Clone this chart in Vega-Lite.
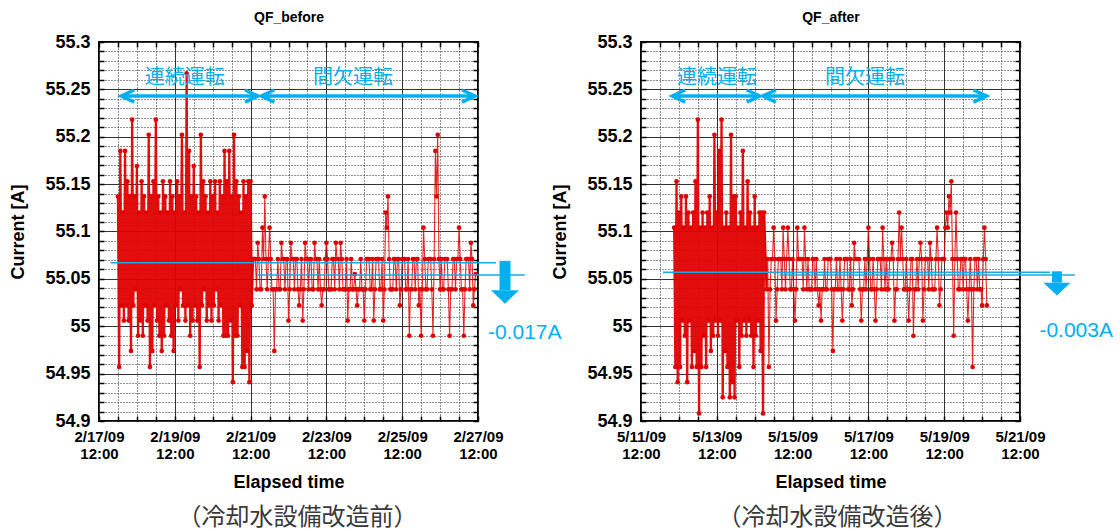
{
"$schema":"https://vega.github.io/schema/vega-lite/v6.json",
"background":"white",
"padding":{"left":8,"top":9,"right":0,"bottom":0},
"bounds":"flush",
"spacing":163,
"datasets":{
"before":[
{"t":"2009-02-18T00:00","v":55.137},{"t":"2009-02-18T00:45","v":54.957},{"t":"2009-02-18T01:30","v":55.185},{"t":"2009-02-18T02:15","v":55.022},{"t":"2009-02-18T03:00","v":55.12},{"t":"2009-02-18T03:45","v":55.006},{"t":"2009-02-18T04:30","v":55.185},{"t":"2009-02-18T05:15","v":55.022},{"t":"2009-02-18T06:00","v":55.153},{"t":"2009-02-18T06:45","v":55.006},{"t":"2009-02-18T07:30","v":55.137},{"t":"2009-02-18T08:15","v":54.974},{"t":"2009-02-18T09:00","v":55.218},{"t":"2009-02-18T09:45","v":55.022},{"t":"2009-02-18T10:30","v":55.137},{"t":"2009-02-18T11:15","v":55.039},{"t":"2009-02-18T12:00","v":55.169},{"t":"2009-02-18T12:45","v":54.99},{"t":"2009-02-18T13:30","v":55.12},{"t":"2009-02-18T14:15","v":55.006},{"t":"2009-02-18T15:00","v":55.153},{"t":"2009-02-18T15:45","v":54.99},{"t":"2009-02-18T16:30","v":55.137},{"t":"2009-02-18T17:15","v":55.022},{"t":"2009-02-18T18:00","v":55.12},{"t":"2009-02-18T18:45","v":55.006},{"t":"2009-02-18T19:30","v":55.202},{"t":"2009-02-18T20:15","v":54.957},{"t":"2009-02-18T21:00","v":55.137},{"t":"2009-02-18T21:45","v":54.974},{"t":"2009-02-18T22:30","v":55.153},{"t":"2009-02-18T23:15","v":55.022},
{"t":"2009-02-19T00:00","v":55.218},{"t":"2009-02-19T00:45","v":55.006},{"t":"2009-02-19T01:30","v":55.137},{"t":"2009-02-19T02:15","v":54.99},{"t":"2009-02-19T03:00","v":55.12},{"t":"2009-02-19T03:45","v":54.974},{"t":"2009-02-19T04:30","v":55.153},{"t":"2009-02-19T05:15","v":54.99},{"t":"2009-02-19T06:00","v":55.137},{"t":"2009-02-19T06:45","v":55.022},{"t":"2009-02-19T07:30","v":55.12},{"t":"2009-02-19T08:15","v":55.006},{"t":"2009-02-19T09:00","v":55.153},{"t":"2009-02-19T09:45","v":54.99},{"t":"2009-02-19T10:30","v":55.137},{"t":"2009-02-19T11:15","v":54.974},{"t":"2009-02-19T12:00","v":55.12},{"t":"2009-02-19T12:45","v":55.022},{"t":"2009-02-19T13:30","v":55.153},{"t":"2009-02-19T14:15","v":55.006},{"t":"2009-02-19T15:00","v":55.137},{"t":"2009-02-19T15:45","v":55.039},{"t":"2009-02-19T16:30","v":55.202},{"t":"2009-02-19T17:15","v":55.022},{"t":"2009-02-19T18:00","v":55.12},{"t":"2009-02-19T18:45","v":55.006},{"t":"2009-02-19T19:30","v":55.267},{"t":"2009-02-19T20:15","v":55.022},{"t":"2009-02-19T21:00","v":55.185},{"t":"2009-02-19T21:45","v":54.99},{"t":"2009-02-19T22:30","v":55.137},{"t":"2009-02-19T23:15","v":55.006},
{"t":"2009-02-20T00:00","v":55.169},{"t":"2009-02-20T00:45","v":55.022},{"t":"2009-02-20T01:30","v":55.137},{"t":"2009-02-20T02:15","v":55.006},{"t":"2009-02-20T03:00","v":55.12},{"t":"2009-02-20T03:45","v":54.957},{"t":"2009-02-20T04:30","v":55.202},{"t":"2009-02-20T05:15","v":55.022},{"t":"2009-02-20T06:00","v":55.153},{"t":"2009-02-20T06:45","v":55.039},{"t":"2009-02-20T07:30","v":55.137},{"t":"2009-02-20T08:15","v":55.006},{"t":"2009-02-20T09:00","v":55.12},{"t":"2009-02-20T09:45","v":55.022},{"t":"2009-02-20T10:30","v":55.153},{"t":"2009-02-20T11:15","v":55.006},{"t":"2009-02-20T12:00","v":55.137},{"t":"2009-02-20T12:45","v":55.022},{"t":"2009-02-20T13:30","v":55.153},{"t":"2009-02-20T14:15","v":55.039},{"t":"2009-02-20T15:00","v":55.12},{"t":"2009-02-20T15:45","v":55.006},{"t":"2009-02-20T16:30","v":55.153},{"t":"2009-02-20T17:15","v":55.022},{"t":"2009-02-20T18:00","v":55.137},{"t":"2009-02-20T18:45","v":54.99},{"t":"2009-02-20T19:30","v":55.185},{"t":"2009-02-20T20:15","v":54.99},{"t":"2009-02-20T21:00","v":55.153},{"t":"2009-02-20T21:45","v":54.99},{"t":"2009-02-20T22:30","v":55.185},{"t":"2009-02-20T23:15","v":55.006},
{"t":"2009-02-21T00:00","v":55.137},{"t":"2009-02-21T00:45","v":54.941},{"t":"2009-02-21T01:30","v":55.202},{"t":"2009-02-21T02:15","v":54.99},{"t":"2009-02-21T03:00","v":55.153},{"t":"2009-02-21T03:45","v":54.99},{"t":"2009-02-21T04:30","v":55.137},{"t":"2009-02-21T05:15","v":55.022},{"t":"2009-02-21T06:00","v":55.12},{"t":"2009-02-21T06:45","v":54.957},{"t":"2009-02-21T07:30","v":55.153},{"t":"2009-02-21T08:15","v":54.957},{"t":"2009-02-21T09:00","v":55.137},{"t":"2009-02-21T09:45","v":54.974},{"t":"2009-02-21T10:30","v":55.153},{"t":"2009-02-21T11:15","v":54.941},{"t":"2009-02-21T12:00","v":55.153},{"t":"2009-02-21T12:45","v":55.022},
{"t":"2009-02-21T13:30","v":55.071},{"t":"2009-02-21T14:15","v":55.071},{"t":"2009-02-21T15:00","v":55.071},{"t":"2009-02-21T15:45","v":55.039},{"t":"2009-02-21T16:30","v":55.088},{"t":"2009-02-21T17:15","v":55.071},{"t":"2009-02-21T18:00","v":55.039},{"t":"2009-02-21T18:45","v":55.039},{"t":"2009-02-21T19:30","v":55.104},{"t":"2009-02-21T20:15","v":55.071},{"t":"2009-02-21T21:00","v":55.137},{"t":"2009-02-21T21:45","v":55.071},{"t":"2009-02-21T22:30","v":55.039},{"t":"2009-02-21T23:15","v":55.071},
{"t":"2009-02-22T00:00","v":55.104},{"t":"2009-02-22T00:45","v":55.071},{"t":"2009-02-22T01:30","v":55.039},{"t":"2009-02-22T02:15","v":55.039},{"t":"2009-02-22T03:00","v":54.974},{"t":"2009-02-22T03:45","v":55.039},{"t":"2009-02-22T04:30","v":55.039},{"t":"2009-02-22T05:15","v":55.071},{"t":"2009-02-22T06:00","v":55.039},{"t":"2009-02-22T06:45","v":55.039},{"t":"2009-02-22T07:30","v":55.088},{"t":"2009-02-22T08:15","v":55.071},{"t":"2009-02-22T09:00","v":55.071},{"t":"2009-02-22T09:45","v":55.039},{"t":"2009-02-22T10:30","v":55.071},{"t":"2009-02-22T11:15","v":55.071},{"t":"2009-02-22T12:00","v":55.006},{"t":"2009-02-22T12:45","v":55.039},{"t":"2009-02-22T13:30","v":55.088},{"t":"2009-02-22T14:15","v":55.071},{"t":"2009-02-22T15:00","v":55.071},{"t":"2009-02-22T15:45","v":55.039},{"t":"2009-02-22T16:30","v":55.071},{"t":"2009-02-22T17:15","v":55.071},{"t":"2009-02-22T18:00","v":55.039},{"t":"2009-02-22T18:45","v":55.022},{"t":"2009-02-22T19:30","v":55.039},{"t":"2009-02-22T20:15","v":55.071},{"t":"2009-02-22T21:00","v":55.006},{"t":"2009-02-22T21:45","v":55.039},{"t":"2009-02-22T22:30","v":55.088},{"t":"2009-02-22T23:15","v":55.071},
{"t":"2009-02-23T00:00","v":55.071},{"t":"2009-02-23T00:45","v":55.039},{"t":"2009-02-23T01:30","v":55.071},{"t":"2009-02-23T02:15","v":55.071},{"t":"2009-02-23T03:00","v":55.039},{"t":"2009-02-23T03:45","v":55.039},{"t":"2009-02-23T04:30","v":55.088},{"t":"2009-02-23T05:15","v":55.071},{"t":"2009-02-23T06:00","v":55.071},{"t":"2009-02-23T06:45","v":55.039},{"t":"2009-02-23T07:30","v":55.071},{"t":"2009-02-23T08:15","v":55.039},{"t":"2009-02-23T09:00","v":55.022},{"t":"2009-02-23T09:45","v":55.039},{"t":"2009-02-23T10:30","v":55.039},{"t":"2009-02-23T11:15","v":55.071},{"t":"2009-02-23T12:00","v":55.088},{"t":"2009-02-23T12:45","v":55.071},{"t":"2009-02-23T13:30","v":55.039},{"t":"2009-02-23T14:15","v":55.039},{"t":"2009-02-23T15:00","v":55.039},{"t":"2009-02-23T15:45","v":55.071},{"t":"2009-02-23T16:30","v":55.071},{"t":"2009-02-23T17:15","v":55.039},{"t":"2009-02-23T18:00","v":55.088},{"t":"2009-02-23T18:45","v":55.071},{"t":"2009-02-23T19:30","v":55.071},{"t":"2009-02-23T20:15","v":55.039},{"t":"2009-02-23T21:00","v":55.088},{"t":"2009-02-23T21:45","v":55.071},{"t":"2009-02-23T22:30","v":55.039},{"t":"2009-02-23T23:15","v":55.039},
{"t":"2009-02-24T00:00","v":55.039},{"t":"2009-02-24T00:45","v":55.071},{"t":"2009-02-24T01:30","v":55.006},{"t":"2009-02-24T02:15","v":55.039},{"t":"2009-02-24T03:00","v":55.039},{"t":"2009-02-24T03:45","v":55.071},{"t":"2009-02-24T04:30","v":55.039},{"t":"2009-02-24T05:15","v":55.039},{"t":"2009-02-24T06:00","v":55.055},{"t":"2009-02-24T06:45","v":55.039},{"t":"2009-02-24T07:30","v":55.022},{"t":"2009-02-24T08:15","v":55.039},{"t":"2009-02-24T09:00","v":55.039},{"t":"2009-02-24T09:45","v":55.071},{"t":"2009-02-24T10:30","v":55.039},{"t":"2009-02-24T11:15","v":55.039},{"t":"2009-02-24T12:00","v":55.006},{"t":"2009-02-24T12:45","v":55.039},{"t":"2009-02-24T13:30","v":55.071},{"t":"2009-02-24T14:15","v":55.071},{"t":"2009-02-24T15:00","v":55.071},{"t":"2009-02-24T15:45","v":55.039},{"t":"2009-02-24T16:30","v":55.039},{"t":"2009-02-24T17:15","v":55.071},{"t":"2009-02-24T18:00","v":55.006},{"t":"2009-02-24T18:45","v":55.039},{"t":"2009-02-24T19:30","v":55.071},{"t":"2009-02-24T20:15","v":55.071},{"t":"2009-02-24T21:00","v":55.071},{"t":"2009-02-24T21:45","v":55.039},{"t":"2009-02-24T22:30","v":55.039},{"t":"2009-02-24T23:15","v":55.071},
{"t":"2009-02-25T00:00","v":55.006},{"t":"2009-02-25T00:45","v":55.039},{"t":"2009-02-25T01:30","v":55.12},{"t":"2009-02-25T02:15","v":55.104},{"t":"2009-02-25T03:00","v":55.137},{"t":"2009-02-25T03:45","v":55.071},{"t":"2009-02-25T04:30","v":55.039},{"t":"2009-02-25T05:15","v":55.039},{"t":"2009-02-25T06:00","v":55.039},{"t":"2009-02-25T06:45","v":55.071},{"t":"2009-02-25T07:30","v":55.071},{"t":"2009-02-25T08:15","v":55.039},{"t":"2009-02-25T09:00","v":55.071},{"t":"2009-02-25T09:45","v":55.071},{"t":"2009-02-25T10:30","v":55.022},{"t":"2009-02-25T11:15","v":55.039},{"t":"2009-02-25T12:00","v":55.071},{"t":"2009-02-25T12:45","v":55.071},{"t":"2009-02-25T13:30","v":55.071},{"t":"2009-02-25T14:15","v":55.039},{"t":"2009-02-25T15:00","v":55.039},{"t":"2009-02-25T15:45","v":55.071},{"t":"2009-02-25T16:30","v":54.99},{"t":"2009-02-25T17:15","v":55.039},{"t":"2009-02-25T18:00","v":55.039},{"t":"2009-02-25T18:45","v":55.071},{"t":"2009-02-25T19:30","v":55.071},{"t":"2009-02-25T20:15","v":55.039},{"t":"2009-02-25T21:00","v":55.071},{"t":"2009-02-25T21:45","v":55.071},{"t":"2009-02-25T22:30","v":55.022},{"t":"2009-02-25T23:15","v":55.039},
{"t":"2009-02-26T00:00","v":54.99},{"t":"2009-02-26T00:45","v":55.039},{"t":"2009-02-26T01:30","v":55.104},{"t":"2009-02-26T02:15","v":55.071},{"t":"2009-02-26T03:00","v":55.039},{"t":"2009-02-26T03:45","v":55.039},{"t":"2009-02-26T04:30","v":55.071},{"t":"2009-02-26T05:15","v":55.071},{"t":"2009-02-26T06:00","v":55.071},{"t":"2009-02-26T06:45","v":55.039},{"t":"2009-02-26T07:30","v":54.99},{"t":"2009-02-26T08:15","v":55.071},{"t":"2009-02-26T09:00","v":55.185},{"t":"2009-02-26T09:45","v":55.137},{"t":"2009-02-26T10:30","v":55.202},{"t":"2009-02-26T11:15","v":55.071},{"t":"2009-02-26T12:00","v":55.039},{"t":"2009-02-26T12:45","v":55.071},{"t":"2009-02-26T13:30","v":55.039},{"t":"2009-02-26T14:15","v":55.039},{"t":"2009-02-26T15:00","v":55.071},{"t":"2009-02-26T15:45","v":55.071},{"t":"2009-02-26T16:30","v":55.071},{"t":"2009-02-26T17:15","v":55.039},{"t":"2009-02-26T18:00","v":54.99},{"t":"2009-02-26T18:45","v":55.039},{"t":"2009-02-26T19:30","v":55.039},{"t":"2009-02-26T20:15","v":55.071},{"t":"2009-02-26T21:00","v":55.071},{"t":"2009-02-26T21:45","v":55.039},{"t":"2009-02-26T22:30","v":55.071},{"t":"2009-02-26T23:15","v":55.071},
{"t":"2009-02-27T00:00","v":55.104},{"t":"2009-02-27T00:45","v":55.071},{"t":"2009-02-27T01:30","v":55.039},{"t":"2009-02-27T02:15","v":55.039},{"t":"2009-02-27T03:00","v":54.99},{"t":"2009-02-27T03:45","v":55.039},{"t":"2009-02-27T04:30","v":55.071},{"t":"2009-02-27T05:15","v":55.071},{"t":"2009-02-27T06:00","v":55.071},{"t":"2009-02-27T06:45","v":55.039},{"t":"2009-02-27T07:30","v":55.088},{"t":"2009-02-27T08:15","v":55.071},{"t":"2009-02-27T09:00","v":55.022},{"t":"2009-02-27T09:45","v":55.039},{"t":"2009-02-27T10:30","v":55.055}
],
"after":[
{"t":"2009-05-12T09:00","v":55.104},{"t":"2009-05-12T09:45","v":54.957},{"t":"2009-05-12T10:30","v":55.153},{"t":"2009-05-12T11:15","v":54.941},{"t":"2009-05-12T12:00","v":55.12},{"t":"2009-05-12T12:45","v":54.957},{"t":"2009-05-12T13:30","v":55.137},{"t":"2009-05-12T14:15","v":55.006},{"t":"2009-05-12T15:00","v":55.104},{"t":"2009-05-12T15:45","v":54.99},{"t":"2009-05-12T16:30","v":55.137},{"t":"2009-05-12T17:15","v":54.941},{"t":"2009-05-12T18:00","v":55.12},{"t":"2009-05-12T18:45","v":55.006},{"t":"2009-05-12T19:30","v":55.104},{"t":"2009-05-12T20:15","v":54.957},{"t":"2009-05-12T21:00","v":55.12},{"t":"2009-05-12T21:45","v":54.974},{"t":"2009-05-12T22:30","v":55.153},{"t":"2009-05-12T23:15","v":54.957},
{"t":"2009-05-13T00:00","v":55.218},{"t":"2009-05-13T00:45","v":54.908},{"t":"2009-05-13T01:30","v":55.104},{"t":"2009-05-13T02:15","v":54.957},{"t":"2009-05-13T03:00","v":55.12},{"t":"2009-05-13T03:45","v":54.99},{"t":"2009-05-13T04:30","v":55.104},{"t":"2009-05-13T05:15","v":54.957},{"t":"2009-05-13T06:00","v":55.12},{"t":"2009-05-13T06:45","v":55.006},{"t":"2009-05-13T07:30","v":55.137},{"t":"2009-05-13T08:15","v":54.974},{"t":"2009-05-13T09:00","v":55.104},{"t":"2009-05-13T09:45","v":54.99},{"t":"2009-05-13T10:30","v":55.202},{"t":"2009-05-13T11:15","v":55.006},{"t":"2009-05-13T12:00","v":55.12},{"t":"2009-05-13T12:45","v":54.99},{"t":"2009-05-13T13:30","v":55.185},{"t":"2009-05-13T14:15","v":55.006},{"t":"2009-05-13T15:00","v":55.218},{"t":"2009-05-13T15:45","v":54.925},{"t":"2009-05-13T16:30","v":55.104},{"t":"2009-05-13T17:15","v":54.974},{"t":"2009-05-13T18:00","v":55.12},{"t":"2009-05-13T18:45","v":54.957},{"t":"2009-05-13T19:30","v":55.104},{"t":"2009-05-13T20:15","v":54.925},{"t":"2009-05-13T21:00","v":55.202},{"t":"2009-05-13T21:45","v":54.941},{"t":"2009-05-13T22:30","v":55.137},{"t":"2009-05-13T23:15","v":54.925},
{"t":"2009-05-14T00:00","v":55.137},{"t":"2009-05-14T00:45","v":55.006},{"t":"2009-05-14T01:30","v":55.104},{"t":"2009-05-14T02:15","v":54.957},{"t":"2009-05-14T03:00","v":55.12},{"t":"2009-05-14T03:45","v":54.99},{"t":"2009-05-14T04:30","v":55.185},{"t":"2009-05-14T05:15","v":55.006},{"t":"2009-05-14T06:00","v":55.104},{"t":"2009-05-14T06:45","v":54.99},{"t":"2009-05-14T07:30","v":55.153},{"t":"2009-05-14T08:15","v":55.006},{"t":"2009-05-14T09:00","v":55.12},{"t":"2009-05-14T09:45","v":54.99},{"t":"2009-05-14T10:30","v":55.104},{"t":"2009-05-14T11:15","v":54.957},{"t":"2009-05-14T12:00","v":55.137},{"t":"2009-05-14T12:45","v":54.99},{"t":"2009-05-14T13:30","v":55.104},{"t":"2009-05-14T14:15","v":55.006},{"t":"2009-05-14T15:00","v":55.12},{"t":"2009-05-14T15:45","v":54.974},{"t":"2009-05-14T16:30","v":55.12},{"t":"2009-05-14T17:15","v":54.908},{"t":"2009-05-14T18:00","v":55.12},
{"t":"2009-05-14T19:30","v":55.039},{"t":"2009-05-14T20:15","v":55.071},{"t":"2009-05-14T21:00","v":54.957},{"t":"2009-05-14T21:45","v":55.039},{"t":"2009-05-14T22:30","v":55.071},{"t":"2009-05-14T23:15","v":55.071},
{"t":"2009-05-15T00:00","v":55.104},{"t":"2009-05-15T00:45","v":55.071},{"t":"2009-05-15T01:30","v":55.006},{"t":"2009-05-15T02:15","v":55.039},{"t":"2009-05-15T03:00","v":55.071},{"t":"2009-05-15T03:45","v":55.071},{"t":"2009-05-15T04:30","v":55.071},{"t":"2009-05-15T05:15","v":55.039},{"t":"2009-05-15T06:00","v":55.104},{"t":"2009-05-15T06:45","v":55.071},{"t":"2009-05-15T07:30","v":55.039},{"t":"2009-05-15T08:15","v":55.071},{"t":"2009-05-15T09:00","v":55.104},{"t":"2009-05-15T09:45","v":55.071},{"t":"2009-05-15T10:30","v":55.039},{"t":"2009-05-15T11:15","v":55.039},{"t":"2009-05-15T12:00","v":55.071},{"t":"2009-05-15T12:45","v":55.039},{"t":"2009-05-15T13:30","v":55.006},{"t":"2009-05-15T14:15","v":55.039},{"t":"2009-05-15T15:00","v":55.104},{"t":"2009-05-15T15:45","v":55.071},{"t":"2009-05-15T16:30","v":55.071},{"t":"2009-05-15T17:15","v":55.071},{"t":"2009-05-15T18:00","v":55.071},{"t":"2009-05-15T18:45","v":55.039},{"t":"2009-05-15T19:30","v":55.104},{"t":"2009-05-15T20:15","v":55.071},{"t":"2009-05-15T21:00","v":55.039},{"t":"2009-05-15T21:45","v":55.071},{"t":"2009-05-15T22:30","v":55.039},{"t":"2009-05-15T23:15","v":55.039},
{"t":"2009-05-16T00:00","v":55.039},{"t":"2009-05-16T00:45","v":55.071},{"t":"2009-05-16T01:30","v":55.071},{"t":"2009-05-16T02:15","v":55.039},{"t":"2009-05-16T03:00","v":55.071},{"t":"2009-05-16T03:45","v":55.039},{"t":"2009-05-16T04:30","v":55.022},{"t":"2009-05-16T05:15","v":55.039},{"t":"2009-05-16T06:00","v":55.006},{"t":"2009-05-16T06:45","v":55.039},{"t":"2009-05-16T07:30","v":55.039},{"t":"2009-05-16T08:15","v":55.071},{"t":"2009-05-16T09:00","v":55.039},{"t":"2009-05-16T09:45","v":55.039},{"t":"2009-05-16T10:30","v":55.071},{"t":"2009-05-16T11:15","v":55.071},{"t":"2009-05-16T12:00","v":55.071},{"t":"2009-05-16T12:45","v":55.039},{"t":"2009-05-16T13:30","v":54.974},{"t":"2009-05-16T14:15","v":55.039},{"t":"2009-05-16T15:00","v":55.039},{"t":"2009-05-16T15:45","v":55.071},{"t":"2009-05-16T16:30","v":55.039},{"t":"2009-05-16T17:15","v":55.039},{"t":"2009-05-16T18:00","v":55.071},{"t":"2009-05-16T18:45","v":55.039},{"t":"2009-05-16T19:30","v":55.006},{"t":"2009-05-16T20:15","v":55.039},{"t":"2009-05-16T21:00","v":55.071},{"t":"2009-05-16T21:45","v":55.071},{"t":"2009-05-16T22:30","v":55.071},{"t":"2009-05-16T23:15","v":55.039},
{"t":"2009-05-17T00:00","v":55.039},{"t":"2009-05-17T00:45","v":55.071},{"t":"2009-05-17T01:30","v":55.022},{"t":"2009-05-17T02:15","v":55.039},{"t":"2009-05-17T03:00","v":55.088},{"t":"2009-05-17T03:45","v":55.071},{"t":"2009-05-17T04:30","v":55.071},{"t":"2009-05-17T05:15","v":55.071},{"t":"2009-05-17T06:00","v":55.071},{"t":"2009-05-17T06:45","v":55.039},{"t":"2009-05-17T07:30","v":55.006},{"t":"2009-05-17T08:15","v":55.039},{"t":"2009-05-17T09:00","v":55.039},{"t":"2009-05-17T09:45","v":55.071},{"t":"2009-05-17T10:30","v":55.039},{"t":"2009-05-17T11:15","v":55.071},{"t":"2009-05-17T12:00","v":55.104},{"t":"2009-05-17T12:45","v":55.071},{"t":"2009-05-17T13:30","v":55.039},{"t":"2009-05-17T14:15","v":55.039},{"t":"2009-05-17T15:00","v":55.071},{"t":"2009-05-17T15:45","v":55.039},{"t":"2009-05-17T16:30","v":55.006},{"t":"2009-05-17T17:15","v":55.039},{"t":"2009-05-17T18:00","v":55.071},{"t":"2009-05-17T18:45","v":55.071},{"t":"2009-05-17T19:30","v":55.071},{"t":"2009-05-17T20:15","v":55.039},{"t":"2009-05-17T21:00","v":55.104},{"t":"2009-05-17T21:45","v":55.071},{"t":"2009-05-17T22:30","v":55.039},{"t":"2009-05-17T23:15","v":55.071},
{"t":"2009-05-18T00:00","v":55.039},{"t":"2009-05-18T00:45","v":55.039},{"t":"2009-05-18T01:30","v":55.071},{"t":"2009-05-18T02:15","v":55.071},{"t":"2009-05-18T03:00","v":55.088},{"t":"2009-05-18T03:45","v":55.071},{"t":"2009-05-18T04:30","v":55.006},{"t":"2009-05-18T05:15","v":55.039},{"t":"2009-05-18T06:00","v":55.039},{"t":"2009-05-18T06:45","v":55.071},{"t":"2009-05-18T07:30","v":55.12},{"t":"2009-05-18T08:15","v":55.071},{"t":"2009-05-18T09:00","v":55.104},{"t":"2009-05-18T09:45","v":55.071},{"t":"2009-05-18T10:30","v":55.039},{"t":"2009-05-18T11:15","v":55.039},{"t":"2009-05-18T12:00","v":55.071},{"t":"2009-05-18T12:45","v":55.039},{"t":"2009-05-18T13:30","v":55.006},{"t":"2009-05-18T14:15","v":55.039},{"t":"2009-05-18T15:00","v":55.071},{"t":"2009-05-18T15:45","v":55.071},{"t":"2009-05-18T16:30","v":54.99},{"t":"2009-05-18T17:15","v":55.039},{"t":"2009-05-18T18:00","v":55.039},{"t":"2009-05-18T18:45","v":55.071},{"t":"2009-05-18T19:30","v":55.039},{"t":"2009-05-18T20:15","v":55.071},{"t":"2009-05-18T21:00","v":55.088},{"t":"2009-05-18T21:45","v":55.071},{"t":"2009-05-18T22:30","v":55.006},{"t":"2009-05-18T23:15","v":55.039},
{"t":"2009-05-19T00:00","v":55.071},{"t":"2009-05-19T00:45","v":55.071},{"t":"2009-05-19T01:30","v":55.071},{"t":"2009-05-19T02:15","v":55.039},{"t":"2009-05-19T03:00","v":55.088},{"t":"2009-05-19T03:45","v":55.071},{"t":"2009-05-19T04:30","v":55.039},{"t":"2009-05-19T05:15","v":55.039},{"t":"2009-05-19T06:00","v":55.039},{"t":"2009-05-19T06:45","v":55.071},{"t":"2009-05-19T07:30","v":55.104},{"t":"2009-05-19T08:15","v":55.071},{"t":"2009-05-19T09:00","v":55.022},{"t":"2009-05-19T09:45","v":55.039},{"t":"2009-05-19T10:30","v":55.071},{"t":"2009-05-19T11:15","v":55.071},{"t":"2009-05-19T12:00","v":55.071},{"t":"2009-05-19T12:45","v":55.104},{"t":"2009-05-19T13:30","v":55.12},{"t":"2009-05-19T14:15","v":55.104},{"t":"2009-05-19T15:00","v":55.137},{"t":"2009-05-19T15:45","v":55.12},{"t":"2009-05-19T16:30","v":55.153},{"t":"2009-05-19T17:15","v":55.071},{"t":"2009-05-19T18:00","v":54.99},{"t":"2009-05-19T18:45","v":55.071},{"t":"2009-05-19T19:30","v":55.12},{"t":"2009-05-19T20:15","v":55.071},{"t":"2009-05-19T21:00","v":55.039},{"t":"2009-05-19T21:45","v":55.039},{"t":"2009-05-19T22:30","v":55.071},{"t":"2009-05-19T23:15","v":55.071},
{"t":"2009-05-20T00:00","v":55.039},{"t":"2009-05-20T00:45","v":55.071},{"t":"2009-05-20T01:30","v":55.071},{"t":"2009-05-20T02:15","v":55.039},{"t":"2009-05-20T03:00","v":55.006},{"t":"2009-05-20T03:45","v":55.039},{"t":"2009-05-20T04:30","v":55.071},{"t":"2009-05-20T05:15","v":55.039},{"t":"2009-05-20T06:00","v":54.957},{"t":"2009-05-20T06:45","v":55.039},{"t":"2009-05-20T07:30","v":55.071},{"t":"2009-05-20T08:15","v":55.071},{"t":"2009-05-20T09:00","v":55.039},{"t":"2009-05-20T09:45","v":55.071},{"t":"2009-05-20T10:30","v":55.039},{"t":"2009-05-20T11:15","v":55.039},{"t":"2009-05-20T12:00","v":55.022},{"t":"2009-05-20T12:45","v":55.071},{"t":"2009-05-20T13:30","v":55.104},{"t":"2009-05-20T14:15","v":55.071},{"t":"2009-05-20T15:00","v":55.022}
],
"means_before":[{"t":"2009-02-17T19:18","t2":"2009-02-27T23:24","v":55.067},{"t":"2009-02-21T16:00","t2":"2009-02-28T17:36","v":55.054}],
"modes_before":[{"mode":"連続運転","t":"2009-02-18T02:06","t2":"2009-02-21T16:42","tm":"2009-02-19T18:18"},{"mode":"間欠運転","t":"2009-02-21T18:48","t2":"2009-02-27T10:06","tm":"2009-02-24T04:48"}],
"diff_before":[{"t":"2009-02-28T05:06","top":55.069,"base":55.038,"tl":"2009-02-27T18:18","vl":54.993,"label":"-0.017A"}],
"means_after":[{"t":"2009-05-12T01:54","t2":"2009-05-22T07:06","v":55.057},{"t":"2009-05-15T03:48","t2":"2009-05-22T22:48","v":55.054}],
"modes_after":[{"mode":"連続運転","t":"2009-05-12T07:48","t2":"2009-05-14T15:12","tm":"2009-05-13T12:06"},{"mode":"間欠運転","t":"2009-05-14T17:12","t2":"2009-05-20T14:48","tm":"2009-05-17T09:48"}],
"diff_after":[{"t":"2009-05-22T11:24","top":55.058,"base":55.046,"tl":"2009-05-22T00:18","vl":54.995,"label":"-0.003A"}]
},
"hconcat":[
{
"width":379,"height":379,
"title":{"text":"（冷却水設備改造前）","orient":"bottom","anchor":"middle","frame":"group","dx":9,"offset":15,"font":"Noto Sans CJK JP","fontSize":24,"fontWeight":"normal","color":"#3a3a3a"},
"resolve":{"axis":{"x":"independent","y":"independent"}},
"layer":[
{"data":{"name":"before"},"transform":[{"filter":{"field":"t","lte":{"year":2009,"month":2,"date":21,"hours":13,"minutes":30}}}],
"mark":{"type":"line","color":"#e00000","strokeWidth":2.3,"strokeJoin":"bevel","opacity":0.95},
"encoding":{
"x":{"field":"t","type":"temporal","scale":{"domain":[{"year":2009,"month":2,"date":17,"hours":12},{"year":2009,"month":2,"date":27,"hours":12}]},
"axis":{"orient":"bottom","values":[{"year":2009,"month":2,"date":17,"hours":12},{"year":2009,"month":2,"date":18,"hours":0},{"year":2009,"month":2,"date":18,"hours":12},{"year":2009,"month":2,"date":19,"hours":0},{"year":2009,"month":2,"date":19,"hours":12},{"year":2009,"month":2,"date":20,"hours":0},{"year":2009,"month":2,"date":20,"hours":12},{"year":2009,"month":2,"date":21,"hours":0},{"year":2009,"month":2,"date":21,"hours":12},{"year":2009,"month":2,"date":22,"hours":0},{"year":2009,"month":2,"date":22,"hours":12},{"year":2009,"month":2,"date":23,"hours":0},{"year":2009,"month":2,"date":23,"hours":12},{"year":2009,"month":2,"date":24,"hours":0},{"year":2009,"month":2,"date":24,"hours":12},{"year":2009,"month":2,"date":25,"hours":0},{"year":2009,"month":2,"date":25,"hours":12},{"year":2009,"month":2,"date":26,"hours":0},{"year":2009,"month":2,"date":26,"hours":12},{"year":2009,"month":2,"date":27,"hours":0},{"year":2009,"month":2,"date":27,"hours":12}],
"grid":true,"gridColor":"#222222","gridDash":[1,2],"ticks":true,
"labelExpr":"hours(datum.value)==12&&date(datum.value)%2==1?[timeFormat(datum.value,'%-m/%-d/%y'),timeFormat(datum.value,'%H:%M')]:''",
"labelFontSize":15,"labelLineHeight":17,"labelPadding":13,"labelDx":3,"title":"Elapsed time","titleFontSize":18,"titlePadding":12}},
"y":{"field":"v","type":"quantitative","scale":{"domain":[54.9,55.3],"nice":false,"zero":false},
"axis":{"orient":"left","values":[54.9,54.91,54.92,54.93,54.94,54.95,54.96,54.97,54.98,54.99,55,55.01,55.02,55.03,55.04,55.05,55.06,55.07,55.08,55.09,55.1,55.11,55.12,55.13,55.14,55.15,55.16,55.17,55.18,55.19,55.2,55.21,55.22,55.23,55.24,55.25,55.26,55.27,55.28,55.29,55.3],
"grid":true,"gridColor":"#222222","gridDash":[1,2],"ticks":true,
"labelExpr":"abs(datum.value*20-round(datum.value*20))<0.001?format(datum.value,'~g'):''",
"labelFontSize":18,"labelPadding":14,"title":"Current [A]","titleFontSize":18,"titlePadding":17}}}},
{"data":{"name":"before"},"transform":[{"filter":{"field":"t","gte":{"year":2009,"month":2,"date":21,"hours":12,"minutes":45}}}],
"mark":{"type":"line","color":"#e00000","strokeWidth":1.1,"opacity":0.85},
"encoding":{"x":{"field":"t","type":"temporal","scale":{"domain":[{"year":2009,"month":2,"date":17,"hours":12},{"year":2009,"month":2,"date":27,"hours":12}]},"axis":null},
"y":{"field":"v","type":"quantitative","scale":{"domain":[54.9,55.3],"nice":false,"zero":false},"axis":null}}},
{"data":{"name":"before"},"mark":{"type":"point","filled":true,"size":22,"color":"#e00000","opacity":1},
"encoding":{"x":{"field":"t","type":"temporal","scale":{"domain":[{"year":2009,"month":2,"date":17,"hours":12},{"year":2009,"month":2,"date":27,"hours":12}]},"axis":null},
"y":{"field":"v","type":"quantitative","scale":{"domain":[54.9,55.3],"nice":false,"zero":false},"axis":null}}},
{"data":{"name":"means_before"},"mark":{"type":"rule","color":"#1aa7e6","strokeWidth":1.5},
"encoding":{"x":{"field":"t","type":"temporal","scale":{"domain":[{"year":2009,"month":2,"date":17,"hours":12},{"year":2009,"month":2,"date":27,"hours":12}]},
"axis":{"orient":"top","values":[{"year":2009,"month":2,"date":17,"hours":12},{"year":2009,"month":2,"date":18,"hours":0},{"year":2009,"month":2,"date":18,"hours":12},{"year":2009,"month":2,"date":19,"hours":0},{"year":2009,"month":2,"date":19,"hours":12},{"year":2009,"month":2,"date":20,"hours":0},{"year":2009,"month":2,"date":20,"hours":12},{"year":2009,"month":2,"date":21,"hours":0},{"year":2009,"month":2,"date":21,"hours":12},{"year":2009,"month":2,"date":22,"hours":0},{"year":2009,"month":2,"date":22,"hours":12},{"year":2009,"month":2,"date":23,"hours":0},{"year":2009,"month":2,"date":23,"hours":12},{"year":2009,"month":2,"date":24,"hours":0},{"year":2009,"month":2,"date":24,"hours":12},{"year":2009,"month":2,"date":25,"hours":0},{"year":2009,"month":2,"date":25,"hours":12},{"year":2009,"month":2,"date":26,"hours":0},{"year":2009,"month":2,"date":26,"hours":12},{"year":2009,"month":2,"date":27,"hours":0},{"year":2009,"month":2,"date":27,"hours":12}],
"grid":true,"gridColor":"#333333","gridOpacity":{"condition":{"test":"hours(datum.value)==12&&date(datum.value)%2==1","value":1},"value":0},
"ticks":true,"labels":false,"title":"QF_before","titleFontSize":14,"titlePadding":17}},
"x2":{"field":"t2"},
"y":{"field":"v","type":"quantitative","scale":{"domain":[54.9,55.3],"nice":false,"zero":false},
"axis":{"orient":"right","values":[54.9,54.91,54.92,54.93,54.94,54.95,54.96,54.97,54.98,54.99,55,55.01,55.02,55.03,55.04,55.05,55.06,55.07,55.08,55.09,55.1,55.11,55.12,55.13,55.14,55.15,55.16,55.17,55.18,55.19,55.2,55.21,55.22,55.23,55.24,55.25,55.26,55.27,55.28,55.29,55.3],
"grid":true,"gridColor":"#333333","gridOpacity":{"condition":{"test":"abs(datum.value*20-round(datum.value*20))<0.001","value":1},"value":0},
"ticks":true,"labels":false,"title":null}}}},
{"data":{"name":"modes_before"},"mark":{"type":"rule","color":"#00b0f0","strokeWidth":3.5},
"encoding":{"x":{"field":"t","type":"temporal","scale":{"domain":[{"year":2009,"month":2,"date":17,"hours":12},{"year":2009,"month":2,"date":27,"hours":12}]},"axis":null},"x2":{"field":"t2"},
"y":{"datum":55.243,"type":"quantitative","scale":{"domain":[54.9,55.3],"nice":false,"zero":false},"axis":null}}},
{"data":{"name":"modes_before"},"mark":{"type":"point","shape":"M2,-0.93L0,0L2,0.93","size":169,"filled":false,"color":"#00b0f0","strokeWidth":3.5,"opacity":1},
"encoding":{"x":{"field":"t","type":"temporal","scale":{"domain":[{"year":2009,"month":2,"date":17,"hours":12},{"year":2009,"month":2,"date":27,"hours":12}]},"axis":null},
"y":{"datum":55.243,"type":"quantitative","scale":{"domain":[54.9,55.3],"nice":false,"zero":false},"axis":null}}},
{"data":{"name":"modes_before"},"mark":{"type":"point","shape":"M-2,-0.93L0,0L-2,0.93","size":169,"filled":false,"color":"#00b0f0","strokeWidth":3.5,"opacity":1},
"encoding":{"x":{"field":"t2","type":"temporal","scale":{"domain":[{"year":2009,"month":2,"date":17,"hours":12},{"year":2009,"month":2,"date":27,"hours":12}]},"axis":null},
"y":{"datum":55.243,"type":"quantitative","scale":{"domain":[54.9,55.3],"nice":false,"zero":false},"axis":null}}},
{"data":{"name":"modes_before"},"mark":{"type":"text","font":"Noto Sans CJK JP","fontSize":20,"color":"#00b0f0","align":"center","baseline":"middle"},
"encoding":{"x":{"field":"tm","type":"temporal","scale":{"domain":[{"year":2009,"month":2,"date":17,"hours":12},{"year":2009,"month":2,"date":27,"hours":12}]},"axis":null},
"y":{"datum":55.262,"type":"quantitative","scale":{"domain":[54.9,55.3],"nice":false,"zero":false},"axis":null},"text":{"field":"mode"}}},
{"data":{"name":"diff_before"},"mark":{"type":"rule","color":"#00b0f0","strokeWidth":11},
"encoding":{"x":{"field":"t","type":"temporal","scale":{"domain":[{"year":2009,"month":2,"date":17,"hours":12},{"year":2009,"month":2,"date":27,"hours":12}]},"axis":null},
"y":{"field":"top","type":"quantitative","scale":{"domain":[54.9,55.3],"nice":false,"zero":false},"axis":null},"y2":{"field":"base"}}},
{"data":{"name":"diff_before"},"mark":{"type":"point","shape":"M-1,0L1,0L0,0.96Z","size":784,"filled":true,"color":"#00b0f0","opacity":1},
"encoding":{"x":{"field":"t","type":"temporal","scale":{"domain":[{"year":2009,"month":2,"date":17,"hours":12},{"year":2009,"month":2,"date":27,"hours":12}]},"axis":null},
"y":{"field":"base","type":"quantitative","scale":{"domain":[54.9,55.3],"nice":false,"zero":false},"axis":null}}},
{"data":{"name":"diff_before"},"mark":{"type":"text","font":"Liberation Sans","fontSize":21,"color":"#00b0f0","align":"left","baseline":"middle"},
"encoding":{"x":{"field":"tl","type":"temporal","scale":{"domain":[{"year":2009,"month":2,"date":17,"hours":12},{"year":2009,"month":2,"date":27,"hours":12}]},"axis":null},
"y":{"field":"vl","type":"quantitative","scale":{"domain":[54.9,55.3],"nice":false,"zero":false},"axis":null},"text":{"field":"label"}}}
]
},
{
"width":379,"height":379,
"title":{"text":"（冷却水設備改造後）","orient":"bottom","anchor":"middle","frame":"group","dx":7,"offset":15,"font":"Noto Sans CJK JP","fontSize":24,"fontWeight":"normal","color":"#3a3a3a"},
"resolve":{"axis":{"x":"independent","y":"independent"}},
"layer":[
{"data":{"name":"after"},"transform":[{"filter":{"field":"t","lte":{"year":2009,"month":5,"date":14,"hours":19,"minutes":30}}}],
"mark":{"type":"line","color":"#e00000","strokeWidth":2.3,"strokeJoin":"bevel","opacity":0.95},
"encoding":{
"x":{"field":"t","type":"temporal","scale":{"domain":[{"year":2009,"month":5,"date":11,"hours":12},{"year":2009,"month":5,"date":21,"hours":12}]},
"axis":{"orient":"bottom","values":[{"year":2009,"month":5,"date":11,"hours":12},{"year":2009,"month":5,"date":12,"hours":0},{"year":2009,"month":5,"date":12,"hours":12},{"year":2009,"month":5,"date":13,"hours":0},{"year":2009,"month":5,"date":13,"hours":12},{"year":2009,"month":5,"date":14,"hours":0},{"year":2009,"month":5,"date":14,"hours":12},{"year":2009,"month":5,"date":15,"hours":0},{"year":2009,"month":5,"date":15,"hours":12},{"year":2009,"month":5,"date":16,"hours":0},{"year":2009,"month":5,"date":16,"hours":12},{"year":2009,"month":5,"date":17,"hours":0},{"year":2009,"month":5,"date":17,"hours":12},{"year":2009,"month":5,"date":18,"hours":0},{"year":2009,"month":5,"date":18,"hours":12},{"year":2009,"month":5,"date":19,"hours":0},{"year":2009,"month":5,"date":19,"hours":12},{"year":2009,"month":5,"date":20,"hours":0},{"year":2009,"month":5,"date":20,"hours":12},{"year":2009,"month":5,"date":21,"hours":0},{"year":2009,"month":5,"date":21,"hours":12}],
"grid":true,"gridColor":"#222222","gridDash":[1,2],"ticks":true,
"labelExpr":"hours(datum.value)==12&&date(datum.value)%2==1?[timeFormat(datum.value,'%-m/%-d/%y'),timeFormat(datum.value,'%H:%M')]:''",
"labelFontSize":15,"labelLineHeight":17,"labelPadding":13,"labelDx":3,"title":"Elapsed time","titleFontSize":18,"titlePadding":12}},
"y":{"field":"v","type":"quantitative","scale":{"domain":[54.9,55.3],"nice":false,"zero":false},
"axis":{"orient":"left","values":[54.9,54.91,54.92,54.93,54.94,54.95,54.96,54.97,54.98,54.99,55,55.01,55.02,55.03,55.04,55.05,55.06,55.07,55.08,55.09,55.1,55.11,55.12,55.13,55.14,55.15,55.16,55.17,55.18,55.19,55.2,55.21,55.22,55.23,55.24,55.25,55.26,55.27,55.28,55.29,55.3],
"grid":true,"gridColor":"#222222","gridDash":[1,2],"ticks":true,
"labelExpr":"abs(datum.value*20-round(datum.value*20))<0.001?format(datum.value,'~g'):''",
"labelFontSize":18,"labelPadding":14,"title":"Current [A]","titleFontSize":18,"titlePadding":17}}}},
{"data":{"name":"after"},"transform":[{"filter":{"field":"t","gte":{"year":2009,"month":5,"date":14,"hours":18,"minutes":0}}}],
"mark":{"type":"line","color":"#e00000","strokeWidth":1.1,"opacity":0.85},
"encoding":{"x":{"field":"t","type":"temporal","scale":{"domain":[{"year":2009,"month":5,"date":11,"hours":12},{"year":2009,"month":5,"date":21,"hours":12}]},"axis":null},
"y":{"field":"v","type":"quantitative","scale":{"domain":[54.9,55.3],"nice":false,"zero":false},"axis":null}}},
{"data":{"name":"after"},"mark":{"type":"point","filled":true,"size":22,"color":"#e00000","opacity":1},
"encoding":{"x":{"field":"t","type":"temporal","scale":{"domain":[{"year":2009,"month":5,"date":11,"hours":12},{"year":2009,"month":5,"date":21,"hours":12}]},"axis":null},
"y":{"field":"v","type":"quantitative","scale":{"domain":[54.9,55.3],"nice":false,"zero":false},"axis":null}}},
{"data":{"name":"means_after"},"mark":{"type":"rule","color":"#1aa7e6","strokeWidth":1.5},
"encoding":{"x":{"field":"t","type":"temporal","scale":{"domain":[{"year":2009,"month":5,"date":11,"hours":12},{"year":2009,"month":5,"date":21,"hours":12}]},
"axis":{"orient":"top","values":[{"year":2009,"month":5,"date":11,"hours":12},{"year":2009,"month":5,"date":12,"hours":0},{"year":2009,"month":5,"date":12,"hours":12},{"year":2009,"month":5,"date":13,"hours":0},{"year":2009,"month":5,"date":13,"hours":12},{"year":2009,"month":5,"date":14,"hours":0},{"year":2009,"month":5,"date":14,"hours":12},{"year":2009,"month":5,"date":15,"hours":0},{"year":2009,"month":5,"date":15,"hours":12},{"year":2009,"month":5,"date":16,"hours":0},{"year":2009,"month":5,"date":16,"hours":12},{"year":2009,"month":5,"date":17,"hours":0},{"year":2009,"month":5,"date":17,"hours":12},{"year":2009,"month":5,"date":18,"hours":0},{"year":2009,"month":5,"date":18,"hours":12},{"year":2009,"month":5,"date":19,"hours":0},{"year":2009,"month":5,"date":19,"hours":12},{"year":2009,"month":5,"date":20,"hours":0},{"year":2009,"month":5,"date":20,"hours":12},{"year":2009,"month":5,"date":21,"hours":0},{"year":2009,"month":5,"date":21,"hours":12}],
"grid":true,"gridColor":"#333333","gridOpacity":{"condition":{"test":"hours(datum.value)==12&&date(datum.value)%2==1","value":1},"value":0},
"ticks":true,"labels":false,"title":"QF_after","titleFontSize":14,"titlePadding":17}},
"x2":{"field":"t2"},
"y":{"field":"v","type":"quantitative","scale":{"domain":[54.9,55.3],"nice":false,"zero":false},
"axis":{"orient":"right","values":[54.9,54.91,54.92,54.93,54.94,54.95,54.96,54.97,54.98,54.99,55,55.01,55.02,55.03,55.04,55.05,55.06,55.07,55.08,55.09,55.1,55.11,55.12,55.13,55.14,55.15,55.16,55.17,55.18,55.19,55.2,55.21,55.22,55.23,55.24,55.25,55.26,55.27,55.28,55.29,55.3],
"grid":true,"gridColor":"#333333","gridOpacity":{"condition":{"test":"abs(datum.value*20-round(datum.value*20))<0.001","value":1},"value":0},
"ticks":true,"labels":false,"title":null}}}},
{"data":{"name":"modes_after"},"mark":{"type":"rule","color":"#00b0f0","strokeWidth":3.5},
"encoding":{"x":{"field":"t","type":"temporal","scale":{"domain":[{"year":2009,"month":5,"date":11,"hours":12},{"year":2009,"month":5,"date":21,"hours":12}]},"axis":null},"x2":{"field":"t2"},
"y":{"datum":55.243,"type":"quantitative","scale":{"domain":[54.9,55.3],"nice":false,"zero":false},"axis":null}}},
{"data":{"name":"modes_after"},"mark":{"type":"point","shape":"M2,-0.93L0,0L2,0.93","size":169,"filled":false,"color":"#00b0f0","strokeWidth":3.5,"opacity":1},
"encoding":{"x":{"field":"t","type":"temporal","scale":{"domain":[{"year":2009,"month":5,"date":11,"hours":12},{"year":2009,"month":5,"date":21,"hours":12}]},"axis":null},
"y":{"datum":55.243,"type":"quantitative","scale":{"domain":[54.9,55.3],"nice":false,"zero":false},"axis":null}}},
{"data":{"name":"modes_after"},"mark":{"type":"point","shape":"M-2,-0.93L0,0L-2,0.93","size":169,"filled":false,"color":"#00b0f0","strokeWidth":3.5,"opacity":1},
"encoding":{"x":{"field":"t2","type":"temporal","scale":{"domain":[{"year":2009,"month":5,"date":11,"hours":12},{"year":2009,"month":5,"date":21,"hours":12}]},"axis":null},
"y":{"datum":55.243,"type":"quantitative","scale":{"domain":[54.9,55.3],"nice":false,"zero":false},"axis":null}}},
{"data":{"name":"modes_after"},"mark":{"type":"text","font":"Noto Sans CJK JP","fontSize":20,"color":"#00b0f0","align":"center","baseline":"middle"},
"encoding":{"x":{"field":"tm","type":"temporal","scale":{"domain":[{"year":2009,"month":5,"date":11,"hours":12},{"year":2009,"month":5,"date":21,"hours":12}]},"axis":null},
"y":{"datum":55.262,"type":"quantitative","scale":{"domain":[54.9,55.3],"nice":false,"zero":false},"axis":null},"text":{"field":"mode"}}},
{"data":{"name":"diff_after"},"mark":{"type":"rule","color":"#00b0f0","strokeWidth":10},
"encoding":{"x":{"field":"t","type":"temporal","scale":{"domain":[{"year":2009,"month":5,"date":11,"hours":12},{"year":2009,"month":5,"date":21,"hours":12}]},"axis":null},
"y":{"field":"top","type":"quantitative","scale":{"domain":[54.9,55.3],"nice":false,"zero":false},"axis":null},"y2":{"field":"base"}}},
{"data":{"name":"diff_after"},"mark":{"type":"point","shape":"M-1,0L1,0L0,0.96Z","size":729,"filled":true,"color":"#00b0f0","opacity":1},
"encoding":{"x":{"field":"t","type":"temporal","scale":{"domain":[{"year":2009,"month":5,"date":11,"hours":12},{"year":2009,"month":5,"date":21,"hours":12}]},"axis":null},
"y":{"field":"base","type":"quantitative","scale":{"domain":[54.9,55.3],"nice":false,"zero":false},"axis":null}}},
{"data":{"name":"diff_after"},"mark":{"type":"text","font":"Liberation Sans","fontSize":21,"color":"#00b0f0","align":"left","baseline":"middle"},
"encoding":{"x":{"field":"tl","type":"temporal","scale":{"domain":[{"year":2009,"month":5,"date":11,"hours":12},{"year":2009,"month":5,"date":21,"hours":12}]},"axis":null},
"y":{"field":"vl","type":"quantitative","scale":{"domain":[54.9,55.3],"nice":false,"zero":false},"axis":null},"text":{"field":"label"}}}
]
}
],
"config":{
"view":{"stroke":"#000","strokeWidth":2},
"axis":{"domain":false,"tickColor":"#000","tickWidth":1.5,"tickSize":-5,"labelFont":"Liberation Sans","labelFontWeight":"bold","labelColor":"#000","titleFont":"Liberation Sans","titleFontWeight":"bold","titleColor":"#000","labelOverlap":false,"labelFlush":false,"labelBound":false,"gridWidth":1}
}
}
